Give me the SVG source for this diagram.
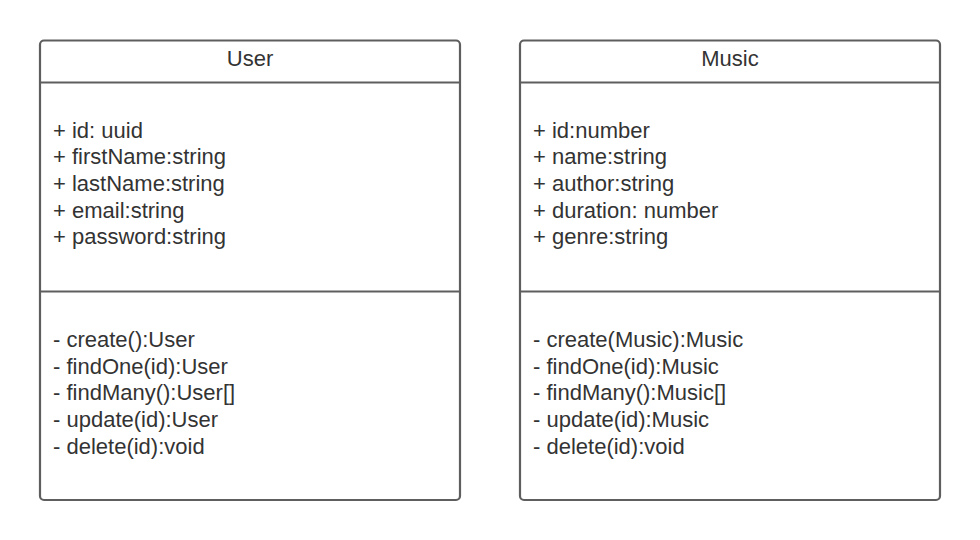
<svg xmlns="http://www.w3.org/2000/svg" width="980" height="540" viewBox="0 0 980 540">
  <style>
    .box { fill: #ffffff; stroke: #5e5e5e; stroke-width: 2.2; }
    .sep { stroke: #5e5e5e; stroke-width: 2.2; }
    .t { font-family: "Liberation Sans", Arial, sans-serif; font-size: 22px; fill: #333333; }
    .title { text-anchor: middle; }
  </style>
  <rect width="980" height="540" fill="#ffffff"/>
  <g id="connectors"></g>
  <g id="user">
    <rect class="box" x="40" y="40.5" width="420" height="459.5" rx="4"/>
    <line class="sep" x1="40" y1="82.5" x2="460" y2="82.5"/>
    <line class="sep" x1="40" y1="291.5" x2="460" y2="291.5"/>
    <text class="t title" x="250" y="65.7">User</text>
    <text class="t" x="53" y="137.5">+ id: uuid</text>
    <text class="t" x="53" y="164.2">+ firstName:string</text>
    <text class="t" x="53" y="190.9">+ lastName:string</text>
    <text class="t" x="53" y="217.6">+ email:string</text>
    <text class="t" x="53" y="244.3">+ password:string</text>
    <text class="t" x="53" y="347">- create():User</text>
    <text class="t" x="53" y="373.7">- findOne(id):User</text>
    <text class="t" x="53" y="400.4">- findMany():User[]</text>
    <text class="t" x="53" y="427.1">- update(id):User</text>
    <text class="t" x="53" y="453.8">- delete(id):void</text>
  </g>
  <g id="music">
    <rect class="box" x="520" y="40.5" width="420" height="459.5" rx="4"/>
    <line class="sep" x1="520" y1="82.5" x2="940" y2="82.5"/>
    <line class="sep" x1="520" y1="291.5" x2="940" y2="291.5"/>
    <text class="t title" x="730" y="65.7">Music</text>
    <text class="t" x="533" y="137.5">+ id:number</text>
    <text class="t" x="533" y="164.2">+ name:string</text>
    <text class="t" x="533" y="190.9">+ author:string</text>
    <text class="t" x="533" y="217.6">+ duration: number</text>
    <text class="t" x="533" y="244.3">+ genre:string</text>
    <text class="t" x="533" y="347">- create(Music):Music</text>
    <text class="t" x="533" y="373.7">- findOne(id):Music</text>
    <text class="t" x="533" y="400.4">- findMany():Music[]</text>
    <text class="t" x="533" y="427.1">- update(id):Music</text>
    <text class="t" x="533" y="453.8">- delete(id):void</text>
  </g>
</svg>
